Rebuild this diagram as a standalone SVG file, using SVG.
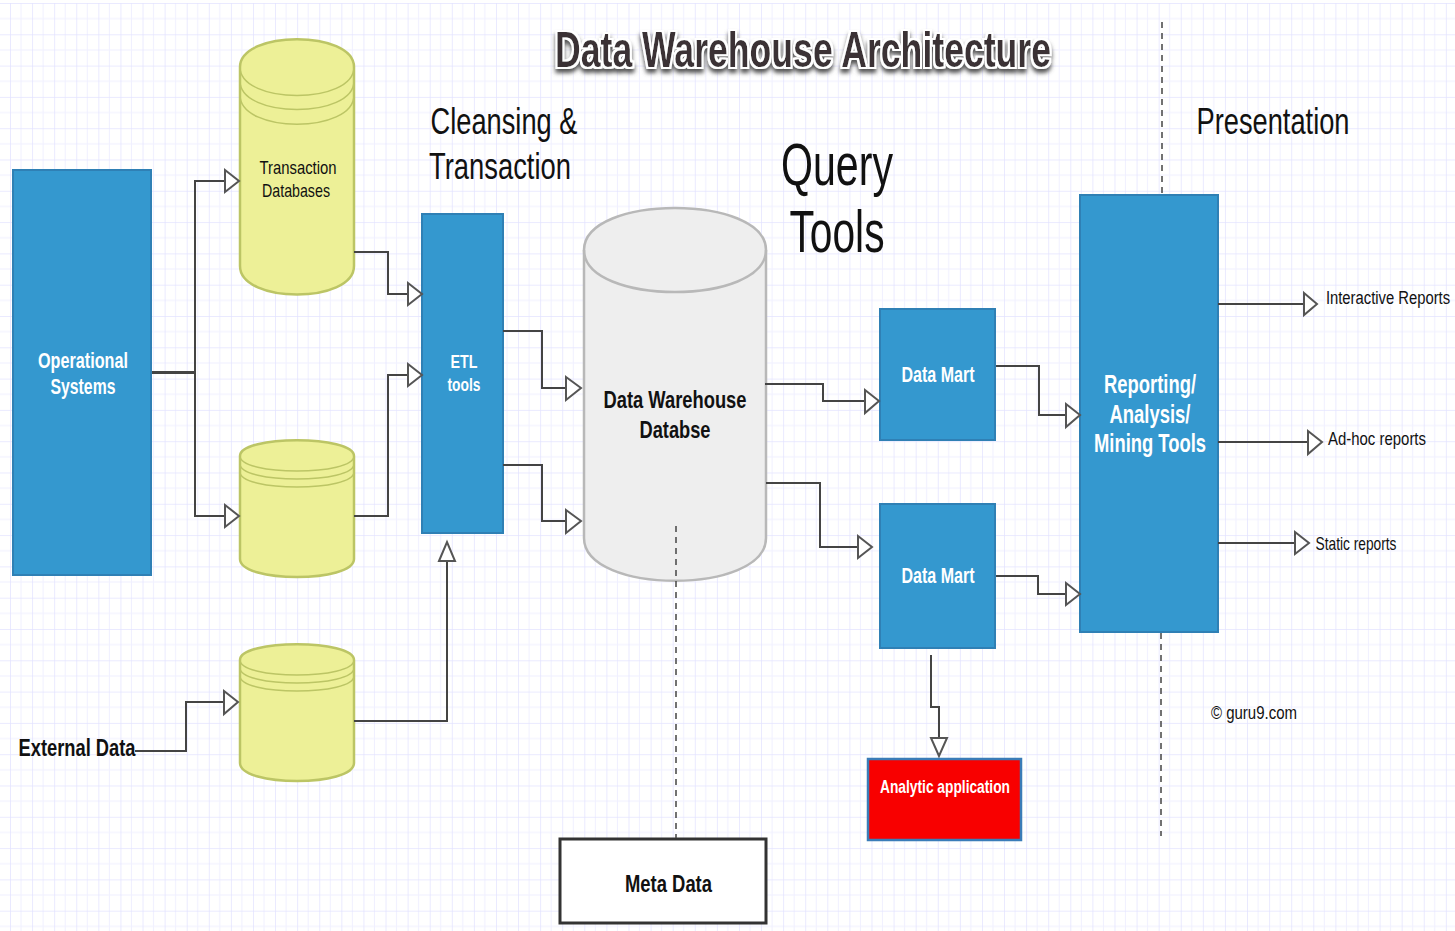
<svg xmlns="http://www.w3.org/2000/svg" width="1455" height="931" viewBox="0 0 1455 931">
<style>
text{font-family:"Liberation Sans",Arial,sans-serif;text-anchor:middle;fill:#111}
.w{fill:#fff;font-weight:bold}
.b{font-weight:bold}
.blue{fill:#3498cf;stroke:#2f80b5;stroke-width:2}
.db{fill:#edf097;stroke:#bcc565;stroke-width:2.5}
.dl{fill:none;stroke:#bcc565;stroke-width:1.5}
.c{fill:none;stroke:#444;stroke-width:2}
.a{fill:#fff;stroke:#555;stroke-width:2}
.d{fill:none;stroke:#444;stroke-width:1.5;stroke-dasharray:6 5}
</style>
<defs>
<pattern id="grid" width="22.09" height="31.3" patternUnits="userSpaceOnUse" x="10" y="3">
<path d="M11 0V31.3M0 15.6H22.09" stroke="#f0f0ff" stroke-width="1" fill="none"/>
<path d="M0 0V31.3M0 0H22.09" stroke="#e3e3ff" stroke-width="1.5" fill="none"/>
</pattern>
<filter id="sh" x="-5%" y="-30%" width="110%" height="170%">
<feMorphology in="SourceAlpha" operator="dilate" radius="2" result="m"/>
<feFlood flood-color="#fff"/><feComposite in2="m" operator="in" result="halo"/>
<feGaussianBlur in="m" stdDeviation="2"/><feOffset dy="4" result="o"/>
<feFlood flood-color="#555"/><feComposite in2="o" operator="in" result="shadow"/>
<feMerge><feMergeNode in="shadow"/><feMergeNode in="halo"/><feMergeNode in="SourceGraphic"/></feMerge>
</filter>
</defs>
<rect width="1455" height="931" fill="#fff"/>
<rect y="3" width="1455" height="928" fill="url(#grid)"/>

<text id="title" x="803" y="67" font-size="50" class="b" style="fill:#3a3335" textLength="496" lengthAdjust="spacingAndGlyphs" filter="url(#sh)">Data Warehouse Architecture</text>
<g id="label-cleansing">
<text x="504" y="134" font-size="37" textLength="147" lengthAdjust="spacingAndGlyphs">Cleansing &amp;</text>
<text x="500" y="179" font-size="37" textLength="142" lengthAdjust="spacingAndGlyphs">Transaction</text>
</g>
<g id="label-query">
<text x="837" y="185" font-size="59" textLength="112" lengthAdjust="spacingAndGlyphs">Query</text>
<text x="837" y="252" font-size="59" textLength="95" lengthAdjust="spacingAndGlyphs">Tools</text>
</g>
<text id="label-presentation" x="1273" y="134" font-size="37" textLength="153" lengthAdjust="spacingAndGlyphs">Presentation</text>

<g id="operational">
<rect class="blue" x="13" y="170" width="138" height="405"/>
<text class="w" x="83" y="368" font-size="22" textLength="90" lengthAdjust="spacingAndGlyphs">Operational</text>
<text class="w" x="83" y="394" font-size="22" textLength="65" lengthAdjust="spacingAndGlyphs">Systems</text>
</g>

<g id="db-transaction">
<path class="db" d="M240 67C240 30 354 30 354 67V266C354 304 240 304 240 266Z"/>
<path class="dl" d="M240 67C240 105 354 105 354 67M240 81C240 119 354 119 354 81M240 95C240 134 354 134 354 95"/>
<text x="298" y="174" font-size="19" textLength="77" lengthAdjust="spacingAndGlyphs">Transaction</text>
<text x="296" y="197" font-size="19" textLength="68" lengthAdjust="spacingAndGlyphs">Databases</text>
</g>
<g id="db-2">
<path class="db" d="M240 456C240 435 354 435 354 456V559C354 583 240 583 240 559Z"/>
<path class="dl" d="M240 456C240 476 354 476 354 456M240 464C240 484 354 484 354 464M240 472C240 492 354 492 354 472"/>
</g>
<g id="db-3">
<path class="db" d="M240 660C240 639 354 639 354 660V763C354 787 240 787 240 763Z"/>
<path class="dl" d="M240 660C240 680 354 680 354 660M240 668C240 688 354 688 354 668M240 676C240 696 354 696 354 676"/>
</g>

<g id="etl">
<rect class="blue" x="422" y="214" width="81" height="319"/>
<text class="w" x="464" y="368" font-size="18" textLength="27" lengthAdjust="spacingAndGlyphs">ETL</text>
<text class="w" x="464" y="391" font-size="18" textLength="33" lengthAdjust="spacingAndGlyphs">tools</text>
</g>

<g id="warehouse">
<path d="M584 250C584 194 766 194 766 250V538C766 595 584 595 584 538Z" fill="#eee" stroke="#b8b8b8" stroke-width="2.5"/>
<path d="M584 250C584 306 766 306 766 250" fill="none" stroke="#b8b8b8" stroke-width="2.5"/>
<text class="b" x="675" y="408" font-size="24" textLength="143" lengthAdjust="spacingAndGlyphs">Data Warehouse</text>
<text class="b" x="675" y="438" font-size="24" textLength="71" lengthAdjust="spacingAndGlyphs">Databse</text>
</g>

<g id="mart-1">
<rect class="blue" x="880" y="309" width="115" height="131"/>
<text class="w" x="938" y="382" font-size="22" textLength="73" lengthAdjust="spacingAndGlyphs">Data Mart</text>
</g>
<g id="mart-2">
<rect class="blue" x="880" y="504" width="115" height="144"/>
<text class="w" x="938" y="583" font-size="22" textLength="73" lengthAdjust="spacingAndGlyphs">Data Mart</text>
</g>

<g id="reporting">
<rect class="blue" x="1080" y="195" width="138" height="437"/>
<text class="w" x="1150" y="393" font-size="25" textLength="92" lengthAdjust="spacingAndGlyphs">Reporting/</text>
<text class="w" x="1150" y="423" font-size="25" textLength="81" lengthAdjust="spacingAndGlyphs">Analysis/</text>
<text class="w" x="1150" y="452" font-size="25" textLength="112" lengthAdjust="spacingAndGlyphs">Mining Tools</text>
</g>

<g id="analytic">
<rect x="868" y="759" width="153" height="81" fill="#f80000" stroke="#3a7cb8" stroke-width="2.5"/>
<text class="w" x="945" y="793" font-size="19" textLength="130" lengthAdjust="spacingAndGlyphs">Analytic application</text>
</g>

<g id="metadata">
<rect x="560" y="839" width="206" height="84" fill="#fff" stroke="#333" stroke-width="3"/>
<text class="b" x="668.500" y="892" font-size="24" textLength="87" lengthAdjust="spacingAndGlyphs">Meta Data</text>
</g>

<g id="external"><text class="b" x="77" y="756" font-size="24" textLength="117" lengthAdjust="spacingAndGlyphs">External Data</text></g>
<g id="out-labels">
<text transform="translate(1388 304) scale(.78 1)" font-size="19">Interactive Reports</text>
<text x="1377" y="445" font-size="19" textLength="98" lengthAdjust="spacingAndGlyphs">Ad-hoc reports</text>
<text x="1356" y="550" font-size="19" textLength="81" lengthAdjust="spacingAndGlyphs">Static reports</text>
<text x="1254" y="719" font-size="19" textLength="86" lengthAdjust="spacingAndGlyphs">© guru9.com</text>
</g>

<g id="connectors">
<path class="d" d="M1162 22V194M1161 633V836M676 526V838"/>
<path class="c" d="M152 373H195V181H225M195 373V516H225M152 372H195"/>
<path class="c" d="M354 252H388V294H408M354 516H388V375H408"/>
<path class="c" d="M503 331H542V388H566M503 465H542V521H566"/>
<path class="c" d="M354 721H447V561"/>
<path class="c" d="M135 751H186V702H224"/>
<path class="c" d="M765 384H823V401H865M766 483H820V547H858"/>
<path class="c" d="M996 366H1039V415H1066M996 576H1038V594H1066"/>
<path class="c" d="M1218 304H1304M1218 442H1308M1218 543H1295"/>
<path class="c" d="M931 655V707H939V738"/>
<g class="a">
<path d="M225 170L239 181L225 192Z"/><path d="M225 505L239 516L225 527Z"/>
<path d="M408 283L422 294L408 305Z"/><path d="M408 364L422 375L408 386Z"/>
<path d="M566 377L581 388L566 400Z"/><path d="M566 510L581 521L566 533Z"/>
<path d="M439 561L447 542L455 561Z"/>
<path d="M224 691L238 702L224 714Z"/>
<path d="M865 390L879 401L865 413Z"/><path d="M858 536L872 547L858 558Z"/>
<path d="M1066 404L1080 415L1066 427Z"/><path d="M1066 583L1080 594L1066 605Z"/>
<path d="M1304 293L1317 304L1304 315Z"/><path d="M1308 431L1322 442L1308 454Z"/>
<path d="M1295 532L1309 543L1295 554Z"/>
<path d="M931 738H947L939 756Z"/>
</g>
</g>
</svg>
